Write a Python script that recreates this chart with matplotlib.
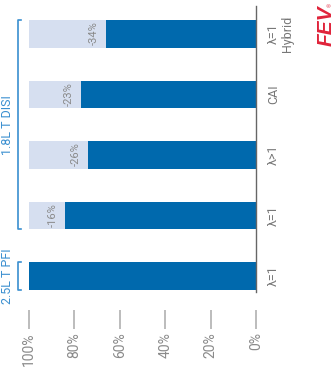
import matplotlib.pyplot as plt

plt.rcParams['font.family'] = ['Liberation Sans Narrow', 'Roboto', 'DejaVu Sans']

# categories from bottom to top
labels = ['λ=1', 'λ=1', 'λ>1', 'CAI', 'λ=1\nHybrid']
share = [100, 84, 74, 77, 66]          # remaining share, %
delta = [None, '-16%', '-26%', '-23%', '-34%']
groups = ['2.5L T PFI', '1.8L T DISI']
group_span = [(0, 0), (1, 4)]
ticks = [100, 80, 60, 40, 20, 0]

dark = '#0069ad'
light = '#d6dff0'
grey = '#8a8a8a'
blue = '#3a8fd0'

W, H = 335, 368
fig = plt.figure(figsize=(W / 100, H / 100), dpi=100)
ax = fig.add_axes([29 / W, 1 - 292 / H, (256 - 29) / W, (292 - 6) / H])

pos = list(range(len(labels)))
bh = 0.46
ax.barh(pos, [100] * len(pos), height=bh, color=light, linewidth=0)
ax.barh(pos, share, height=bh, color=dark, linewidth=0)

ax.set_xlim(100, 0)
ax.set_ylim(-0.264, 4.463)

for spine in ['top', 'left', 'bottom']:
    ax.spines[spine].set_visible(False)
ax.spines['right'].set_color('#666666')
ax.spines['right'].set_linewidth(1)
ax.spines['bottom'].set_position(('outward', 13))

ax.set_xticks(ticks)
ax.set_xticklabels([f'{t}%' for t in ticks], rotation=90, color=grey, fontsize=10)
ax.tick_params(axis='x', length=14, width=1.2, color='#b0b0b0', pad=2)
ax.set_yticks([])

for p, lab, s, d in zip(pos, labels, share, delta):
    ax.text(1.048, p, lab, transform=ax.get_yaxis_transform(), rotation=90,
            ha='left', va='center', color='#777777', fontsize=9,
            multialignment='center', linespacing=1.1)
    if d:
        ax.text(s + 3.2, p + bh / 2 - 0.02, d, rotation=90, ha='right', va='top',
                color='#8a8a8a', fontsize=8)

# group brackets on the left
for g, (a, b) in zip(groups, group_span):
    y0, y1 = a - bh / 2, b + bh / 2
    xb, xt = -0.048, -0.035
    ax.plot([xt, xb, xb, xt], [y0, y0, y1, y1], color=blue, lw=1.2,
            transform=ax.get_yaxis_transform(), clip_on=False)
    ax.text(-0.066, (y0 + y1) / 2, g, transform=ax.get_yaxis_transform(),
            rotation=90, ha='right', va='center', color=blue, fontsize=9)

# logo
fig.text(326 / W, 1 - 26 / H, 'FEV', rotation=90, ha='center', va='center',
         color='#e0233a', fontsize=15, fontweight='bold', fontstyle='italic',
         family=['Liberation Sans', 'DejaVu Sans'])
fig.text(331 / W, 1 - 5 / H, '®', rotation=90, ha='center', va='center',
         color='#e0233a', fontsize=4, family=['Liberation Sans', 'DejaVu Sans'])

fig.savefig('out.png', dpi=100)
